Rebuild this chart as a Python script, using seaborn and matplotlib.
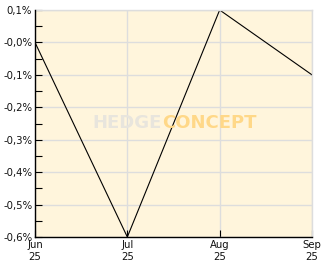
import matplotlib
matplotlib.use("Agg")
import matplotlib.pyplot as plt
import seaborn as sns
import pandas as pd
import numpy as np
from matplotlib.ticker import MultipleLocator

months = ["Jun\n25", "Jul\n25", "Aug\n25", "Sep\n25"]
values = [0.0, -0.6, 0.1, -0.1]
ytick_vals = [0.1, 0.0, -0.1, -0.2, -0.3, -0.4, -0.5, -0.6]
ytick_labels = ["0,1%", "-0,0%", "-0,1%", "-0,2%", "-0,3%", "-0,4%", "-0,5%", "-0,6%"]

sns.set_style("white")
plt.rcParams["font.family"] = ["DejaVu Sans"]

df = pd.DataFrame({"x": np.arange(len(months)), "y": values})

fig = plt.figure(figsize=(3.32, 2.69), dpi=100)
ax = fig.add_axes([35/332, (269-237)/269, 277/332, 227/269])
ax.set_facecolor("#FFF5DC")

sns.lineplot(data=df, x="x", y="y", ax=ax, color="black", linewidth=0.8)

ax.set_xlim(0, len(months)-1)
ax.set_ylim(-0.6, 0.1)
ax.set_xticks(df["x"])
ax.set_xticklabels(months, fontsize=7.3, linespacing=1.25)
ax.set_yticks(ytick_vals)
ax.set_yticklabels(ytick_labels, fontsize=7.3)
ax.yaxis.set_minor_locator(MultipleLocator(0.05))
ax.set_xlabel("")
ax.set_ylabel("")

ax.grid(True, which="major", color="#DDDDDD", linewidth=1.0)
ax.set_axisbelow(True)
ax.tick_params(axis="both", which="major", direction="in", length=5, width=0.8,
               color="black", pad=2, left=True, bottom=True, labelcolor="#111111")
ax.tick_params(axis="y", which="minor", direction="in", length=5, width=0.8,
               color="black", left=True)
for s in ["top", "right"]:
    ax.spines[s].set_color("#DDDDDD")
    ax.spines[s].set_linewidth(1.0)
for s in ["left", "bottom"]:
    ax.spines[s].set_color("black")
    ax.spines[s].set_linewidth(1.0)
    ax.spines[s].set_zorder(5)

split = (162 - 35) / 277
ax.text(split, 0.5, "HEDGE", transform=ax.transAxes, ha="right", va="center",
        fontsize=13, fontweight="bold", color="#E8E5DD", family=["DejaVu Sans"])
ax.text(split, 0.5, "CONCEPT", transform=ax.transAxes, ha="left", va="center",
        fontsize=13, fontweight="bold", color="#FFD888", family=["DejaVu Sans"])

fig.savefig("out.png", dpi=100, facecolor="white")
